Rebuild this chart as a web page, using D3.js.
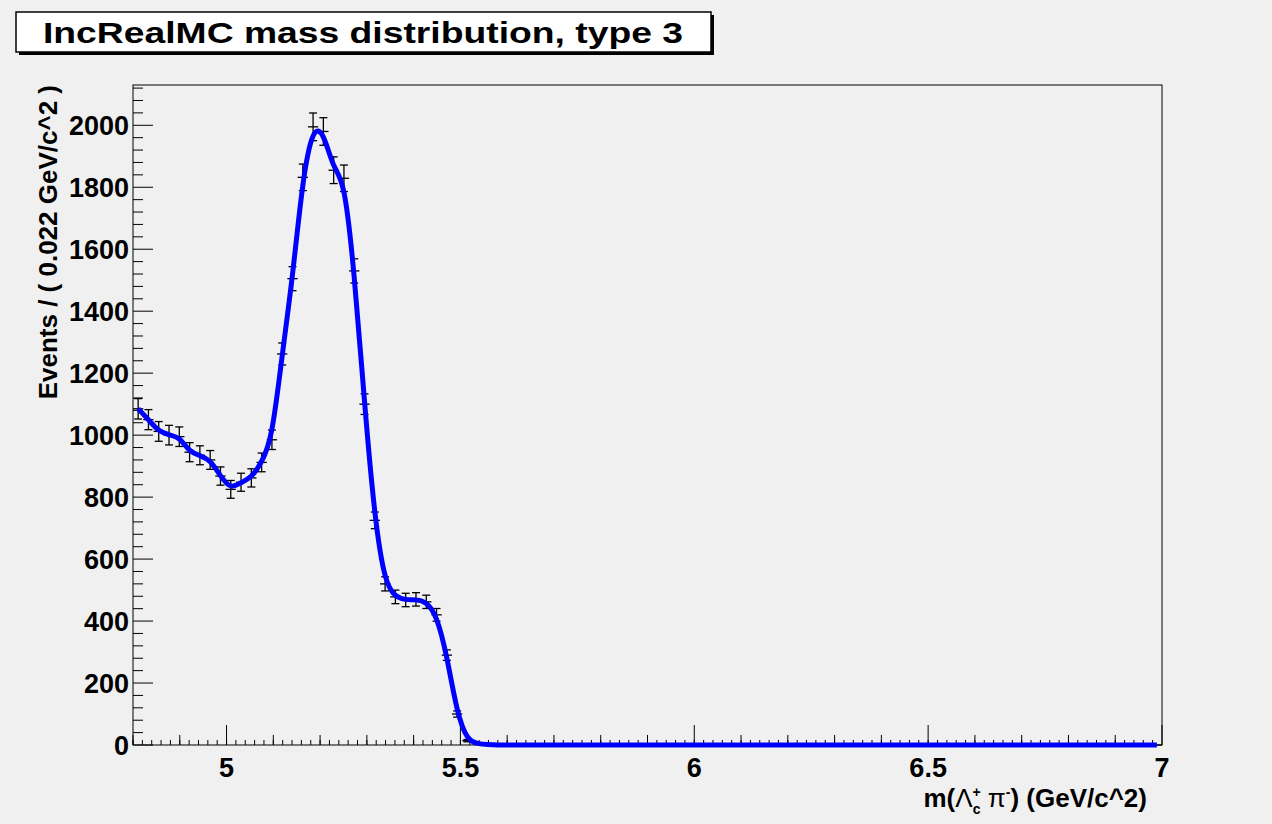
<!DOCTYPE html>
<html><head><meta charset="utf-8">
<script src="https://cdn.jsdelivr.net/npm/d3@7"></script>
<style>body{margin:0;background:#fff}text{font-family:"Liberation Sans",Arial,sans-serif;font-weight:bold}</style>
</head><body><svg id="c" width="1272" height="824"></svg>
<script>
const title = "IncRealMC mass distribution, type 3";
const binStart = 4.8, binWidth = 0.022, nBins = 100;
const counts = [1085,1050,1012,1000,995,945,935,920,868,825,848,862,912,985,1262,1505,1832,1995,1980,1855,1829,1530,1100,725,520,478,468,470,462,420,290,100,14,4,1];
const yTicks = [0,200,400,600,800,1000,1200,1400,1600,1800,2000];
const xTicks = [5,5.5,6,6.5,7];

const svg = d3.select("#c");
svg.append("rect").attr("width",1272).attr("height",824).attr("fill","#f0f0f0");
const L=133,R=1162,T=85,B=745;
const x = d3.scaleLinear().domain([4.8,7]).range([L,R]);
const y = d3.scaleLinear().domain([0,2130]).range([B,T]);
svg.append("rect").attr("x",L).attr("y",T).attr("width",R-L).attr("height",B-T).attr("fill","#f0f0f0").attr("stroke","#000").attr("stroke-width",1);

// title box
svg.append("rect").attr("x",19).attr("y",15).attr("width",695).attr("height",40).attr("fill","#000");
svg.append("rect").attr("x",16).attr("y",12).attr("width",695).attr("height",40).attr("fill","#fff").attr("stroke","#000").attr("stroke-width",1.5);
svg.append("text").attr("x",363).attr("y",43).attr("text-anchor","middle").attr("font-size",30).attr("textLength",640).attr("lengthAdjust","spacingAndGlyphs").text(title);

// ticks
const g=svg.append("g").attr("stroke","#000").attr("stroke-width",1);
d3.range(0,2130,40).forEach(v=>{const maj=v%200===0;g.append("line").attr("x1",L).attr("x2",L+(maj?20:10)).attr("y1",y(v)).attr("y2",y(v));});
d3.range(48,71).map(v=>v/10).forEach(v=>{const maj=Math.abs(v*2-Math.round(v*2))<1e-6;g.append("line").attr("x1",x(v)).attr("x2",x(v)).attr("y1",B).attr("y2",B-(maj?20:10));});
d3.range(240,350).map(v=>v/50).forEach(v=>{g.append("line").attr("x1",x(v)).attr("x2",x(v)).attr("y1",B).attr("y2",B-5);});
yTicks.forEach(v=>svg.append("text").attr("x",L-4).attr("y",y(v)+10).attr("text-anchor","end").attr("font-size",27).text(v));
xTicks.forEach(v=>svg.append("text").attr("x",x(v)).attr("y",B+32).attr("text-anchor","middle").attr("font-size",27).text(v));

// axis titles
const yl=svg.append("text").attr("transform","translate(57,85) rotate(-90)").attr("text-anchor","end").attr("font-size",26);
yl.text("Events / ( 0.022 GeV/c^2 )");
const xl=svg.append("text").attr("x",1147).attr("y",807).attr("text-anchor","end").attr("font-size",26);
xl.append("tspan").text("m(");
xl.append("tspan").attr("font-weight","normal").text("Λ");
xl.append("tspan").attr("font-size",14).attr("dy",-10).text("+");
xl.append("tspan").attr("font-size",14).attr("dx",-8).attr("dy",17).text("c");
xl.append("tspan").attr("font-weight","normal").attr("dy",-7).text(" π");
xl.append("tspan").attr("font-size",14).attr("dy",-10).text("-");
xl.append("tspan").attr("dy",10).text(") (GeV/c^2)");

// data
const data = d3.range(nBins).map(i=>({x:binStart+binWidth*(i+0.5), v: i<counts.length?counts[i]:0}));
const eg=svg.append("g").attr("stroke","#000").attr("stroke-width",1.3);
data.forEach(d=>{
  const e=Math.sqrt(d.v), cx=x(d.x);
  eg.append("line").attr("x1",x(d.x-binWidth/2)).attr("x2",x(d.x+binWidth/2)).attr("y1",y(d.v)).attr("y2",y(d.v));
  if(d.v>0){
    eg.append("line").attr("x1",cx).attr("x2",cx).attr("y1",y(d.v+e)).attr("y2",y(d.v-e));
    [d.v+e,d.v-e].forEach(w=>eg.append("line").attr("x1",cx-4).attr("x2",cx+4).attr("y1",y(w)).attr("y2",y(w)));
  }
});
const line=d3.line().x(d=>x(d.x)).y(d=>y(d.v)).curve(d3.curveBasis);
svg.append("path").datum(data).attr("d",line).attr("fill","none").attr("stroke","#0000ff").attr("stroke-width",5);
</script></body></html>
